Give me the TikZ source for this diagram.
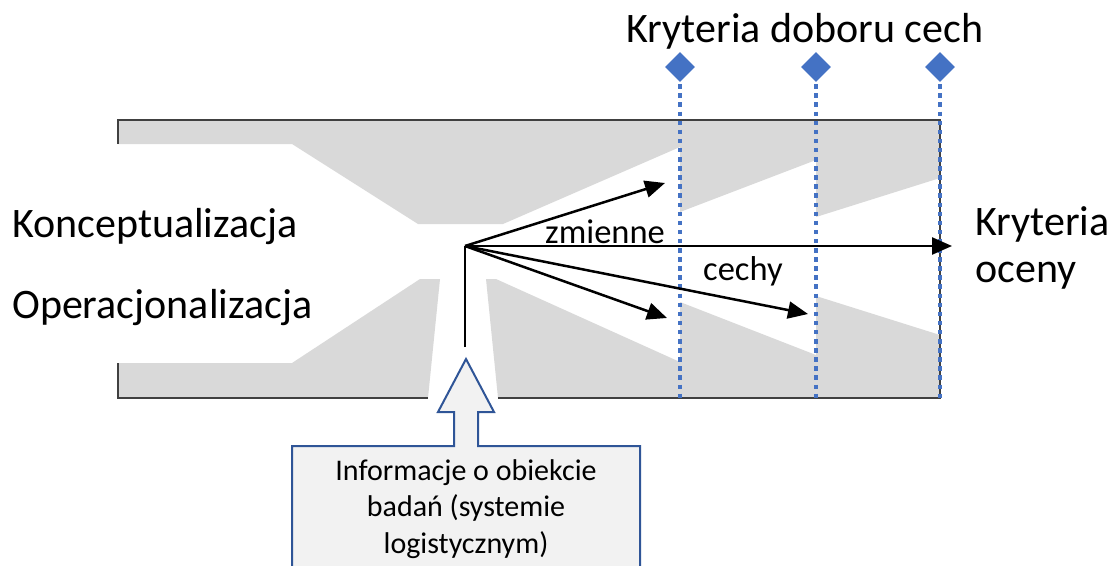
\documentclass[tikz,border=0pt]{standalone}
\usepackage{fontspec}
\setmainfont{Carlito}
\usetikzlibrary{arrows.meta,shapes.geometric}
\definecolor{bandgray}{HTML}{D9D9D9}
\definecolor{framegray}{HTML}{404040}
\definecolor{critblue}{HTML}{4472C4}
\definecolor{boxblue}{HTML}{2F5597}
\definecolor{boxfill}{HTML}{F2F2F2}
\begin{document}
\begin{tikzpicture}[x=1pt,y=-1pt,
  band/.style={fill=bandgray, draw=none},
  frameline/.style={draw=framegray, line width=2pt},
  critline/.style={draw=critblue, line width=4pt, dash pattern=on 4.5pt off 4.6pt},
  critmark/.style={diamond, fill=critblue, minimum width=30pt, minimum height=30pt, inner sep=0pt},
  flow/.style={line width=2.5pt, -{Triangle[length=20pt,width=17pt]}},
  bigtext/.style={font=\fontsize{42}{47}\selectfont, inner sep=0pt},
  smalltext/.style={font=\fontsize{34.5}{40}\selectfont, inner sep=0pt},
  boxtext/.style={font=\fontsize{30}{36.5}\selectfont, inner sep=0pt, align=center}]
\useasboundingbox (0,0) rectangle (1115,565);

% grey bands of the funnel
\fill[band] (118,120) -- (940,120) -- (940,178) -- (816,217) -- (816,160)
  -- (680,212) -- (680,147) -- (503,224) -- (418,224) -- (292,144) -- (118,144) -- cycle;
\fill[band] (118,398) -- (118,363) -- (292,363) -- (420,279) -- (440,279) -- (428,398) -- cycle;
\fill[band] (486,279) -- (496,279) -- (680,362) -- (680,302) -- (816,355) -- (816,296)
  -- (940,335) -- (940,398) -- (498,398) -- cycle;

% outline of the frame
\draw[frameline] (118,144) -- (118,120) -- (940,120) -- (940,398) -- (498,398);
\draw[frameline] (428,398) -- (118,398) -- (118,363);

% selection criteria markers
\node[critmark] (d1) at (680,67) {};
\node[critmark] (d2) at (816,67) {};
\node[critmark] (d3) at (940,67) {};
\coordinate (b1) at (680,398);
\coordinate (b2) at (816,398);
\coordinate (b3) at (940,398);
\draw[critline] ([yshift=-2pt]d1.south) -- (b1);
\draw[critline] ([yshift=-2pt]d2.south) -- (b2);
\draw[critline] ([yshift=-2pt]d3.south) -- (b3);

% arrows fanning out from the source point
\coordinate (feed) at (465,347);
\coordinate (src) at (465,246);
\coordinate (t1) at (665,183);
\coordinate (t2) at (952,246);
\coordinate (t3) at (667,318);
\coordinate (t4) at (808,314);
\draw[line width=2.5pt] (feed) -- (src);
\draw[flow] (src) -- (t1);
\draw[flow] (src) -- (t2);
\draw[flow] (src) -- (t3);
\draw[flow] (src) -- (t4);

% information box with its upward arrow
\begin{scope}
\clip (0,0) rectangle (1115,565);
\draw[draw=boxblue, fill=boxfill, line width=2pt] (292,590) -- (292,446) -- (454,446)
  -- (454,412) -- (438,412) -- (466,359) -- (494,412) -- (478,412) -- (478,446)
  -- (640,446) -- (640,590);
\end{scope}

% labels (multi-line nodes are anchored on the baseline of their last line)
\node[bigtext, anchor=base] (title) at (805,42) {Kryteria doboru cech};
\node[bigtext, anchor=base west] (konc) at (12,237) {Konceptualizacja};
\node[bigtext, anchor=base west] (oper) at (12,318) {Operacjonalizacja};
\node[bigtext, anchor=base west, align=left] (ocena) at (975,282) {Kryteria\\oceny};
\node[smalltext, anchor=base west] (zm) at (545,243) {zmienne};
\node[smalltext, anchor=base west] (ce) at (703,280) {cechy};
\node[boxtext, anchor=base] (info) at (466,553) {Informacje o obiekcie\\badań (systemie\\logistycznym)};
\end{tikzpicture}
\end{document}
